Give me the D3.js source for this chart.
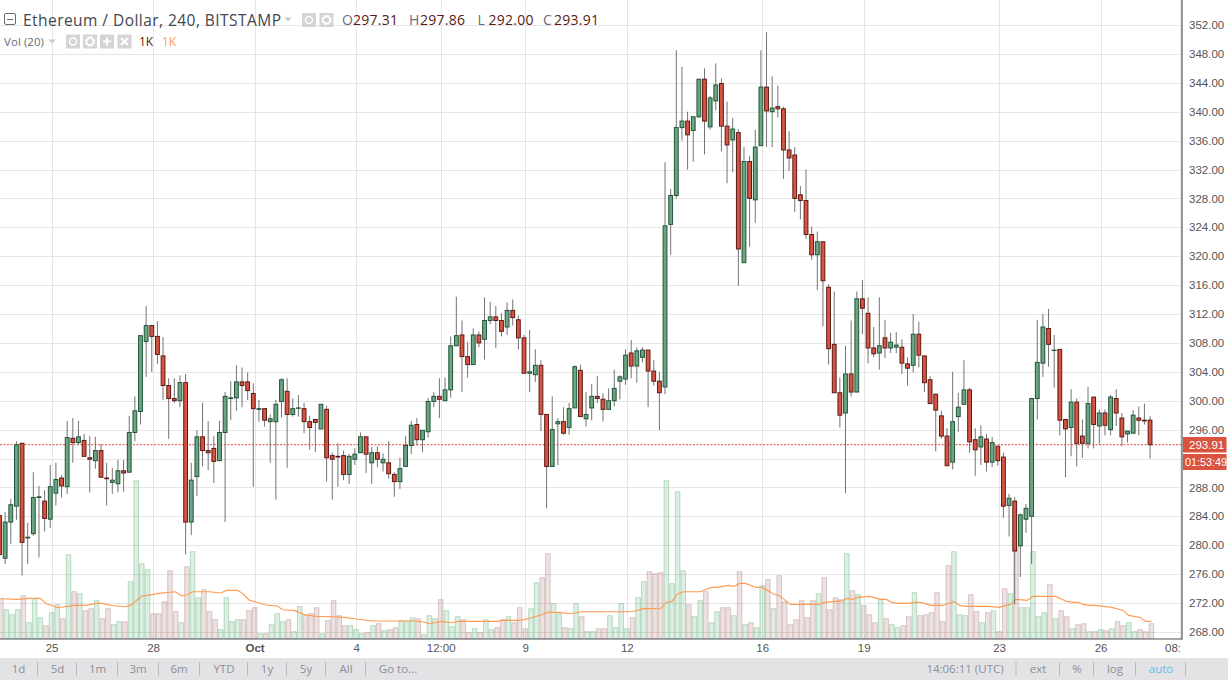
<!DOCTYPE html>
<html><head><meta charset="utf-8">
<script src="https://cdn.jsdelivr.net/npm/d3@7/dist/d3.min.js"></script>
<style>
html,body{margin:0;padding:0;background:#fff;overflow:hidden}
svg{display:block}
.ui{font-family:"Open Sans",sans-serif}
.axis text{font-family:"Liberation Sans",Arial,sans-serif;font-size:11.5px;fill:#555}
</style></head><body><svg id="c" width="1228" height="681"></svg>
<script>
const opens=[284.1,278.2,283.2,285.4,294.1,281.0,281.6,286.6,286.1,283.6,287.2,289.3,288.1,294.8,294.2,294.5,292.1,291.7,293.1,289.3,288.7,288.5,290.3,290.1,295.6,298.5,308.2,310.4,308.9,306.2,302.1,300.3,300.0,302.5,283.2,289.5,295.0,293.1,293.4,291.7,295.6,300.3,300.4,302.6,302.6,301.0,298.8,298.9,297.1,297.1,299.9,301.3,298.1,298.95,298.9,297.1,297.4,296.1,298.8,292.4,292.3,292.4,289.8,291.9,292.8,295.0,291.4,292.8,291.4,291.4,289.8,288.8,290.9,293.8,296.7,294.6,295.7,299.9,300.6,300.0,301.5,307.6,309.1,306.1,305.0,309.1,308.5,311.1,311.6,311.1,310.2,312.5,311.2,308.7,303.8,303.6,304.9,298.1,290.9,296.8,297.1,296.3,299.0,304.2,297.5,299.0,300.6,300.2,298.8,300.0,302.7,303.0,306.6,304.8,306.0,307.0,304.1,302.7,301.9,324.4,328.4,337.8,338.7,337.4,339.3,344.5,337.9,341.5,343.9,338.0,336.1,337.1,319.1,333.1,327.8,335.3,343.4,340.0,340.7,340.4,334.7,334.0,328.5,327.7,323.0,320.2,322.0,315.7,307.8,301.1,298.3,303.7,301.2,314.1,312.1,307.3,306.6,308.7,307.3,307.4,307.4,305.1,304.9,309.2,306.2,302.9,300.9,297.9,295.1,291.5,297.8,299.5,301.5,294.6,293.6,294.7,291.5,293.7,292.2,285.5,286.1,279.9,283.6,284.0,300.3,305.2,310.0,306.95,307.1,297.4,296.3,299.8,295.1,294.1,300.5,296.5,298.3,296.0,300.3,297.6,295.4,295.5,297.6,297.3,297.31];
const closes=[278.7,283.2,285.6,293.9,280.4,281.1,286.6,286.7,283.7,288.1,289.1,288.2,294.9,294.2,295.0,292.3,291.9,293.1,289.4,289.2,289.0,290.3,290.0,295.6,298.6,309.0,310.4,308.9,306.4,302.1,300.3,300.0,302.5,283.2,289.0,295.0,293.1,292.8,291.6,295.6,300.6,300.4,302.6,302.1,301.4,298.9,298.9,297.3,297.5,299.5,302.9,298.1,298.9,299.0,297.1,296.3,297.0,299.5,292.1,291.9,292.2,289.8,292.3,292.6,295.0,292.6,292.8,291.9,291.9,289.9,288.8,290.6,293.8,296.6,294.6,295.9,299.9,300.6,300.2,301.5,307.6,309.0,306.1,305.0,309.1,308.0,311.1,311.6,311.1,309.6,312.5,311.5,308.7,303.8,304.0,304.9,298.1,290.9,296.0,297.1,295.5,298.9,304.7,297.8,298.1,300.6,300.3,298.8,300.0,301.7,303.3,306.3,304.8,306.9,307.0,304.1,302.7,301.1,324.2,328.4,337.8,338.7,336.8,339.3,344.5,338.7,341.9,343.7,338.0,335.4,337.6,321.0,333.1,328.0,335.1,343.4,340.1,340.5,340.4,334.7,333.6,328.0,327.7,323.0,320.2,322.0,316.6,307.2,301.1,298.0,303.7,301.2,314.1,312.8,307.3,306.5,307.6,307.3,308.1,307.7,305.2,304.5,309.2,306.3,302.5,299.6,298.7,295.1,291.0,297.1,299.1,301.5,294.3,293.2,295.0,291.5,294.2,291.7,285.4,286.5,279.2,284.2,285.1,300.3,305.3,310.2,307.8,307.0,297.3,296.1,299.8,294.1,294.1,299.6,296.7,298.3,296.6,300.5,298.3,295.0,295.8,298.0,297.3,297.2,293.91];
const highs=[285,284.6,286.4,294.4,294.2,283.1,290.1,288.2,287.6,291.1,291.4,289.7,297.2,297.6,297.2,295.4,295.1,295.0,294.0,291.4,290.7,291.8,291.8,297.9,300.6,309.0,313.1,310.4,311.0,308.8,303.1,303.1,303.5,303.7,291.4,295.9,299.7,297.2,295.1,297.2,301.2,302.7,304.9,304.6,303.9,302.4,300.1,298.9,298.1,300.1,303.1,303.1,300.3,300.8,299.7,297.9,297.4,299.5,299.3,292.8,294.1,293.1,292.6,293.4,295.6,295.0,293.6,293.7,292.7,294.4,290.1,292.1,295.1,297.2,297.6,295.9,300.4,301.2,303.1,303.2,308.9,314.4,311.1,308.1,310.0,309.6,314.3,313.7,313.1,312.1,313.6,314.0,311.8,309.1,309.8,307.1,305.6,298.1,300.6,297.6,299.1,299.7,304.9,305.0,301.2,302.3,303.4,301.0,301.7,304.3,303.5,307.1,308.4,307.4,307.4,307.0,305.6,304.0,333.0,329.3,348.5,346.2,340.0,339.3,344.5,346.0,342.2,346.7,344.6,341.4,339.1,337.6,335.1,333.9,337.5,348.5,351.0,344.9,343.6,340.7,337.3,335.1,329.7,332.0,324.1,323.4,322.0,316.1,315.1,303.2,307.6,311.1,315.1,316.7,314.3,310.2,314.3,311.2,309.4,309.5,308.5,306.0,312.0,310.9,306.2,303.4,300.9,298.6,296.2,304.0,301.1,305.6,301.8,296.2,296.6,295.4,295.0,293.7,292.8,287.1,286.7,284.4,285.7,300.3,311.2,312.0,312.7,309.1,307.1,297.4,301.6,300.3,297.4,301.9,300.5,298.8,298.8,300.8,301.6,298.3,295.8,298.7,299.2,299.6,297.86];
const lows=[277.8,277.4,280.2,283.5,275.8,277.4,281.3,278.3,281.9,282.4,285.5,286.6,287.1,291.4,293.9,292.3,287.3,290.6,289.4,285.5,287.1,287.3,287.4,290.1,294.4,296.7,303.3,304.0,305.1,300.1,294.7,299.7,299.1,278.7,281.4,286.8,290.9,290.4,288.6,291.7,283.2,297.3,298.6,299.1,300.1,288.1,297.1,296.4,291.4,286.3,297.7,290.7,297.8,297.8,295.5,293.2,292.9,296.1,288.8,286.3,288.1,289.0,288.5,291.1,292.8,290.0,288.5,290.8,290.2,289.2,286.7,287.8,290.9,292.6,293.8,292.9,294.9,299.1,297.6,300.0,300.4,307.6,301.2,303.2,305.0,307.4,305.7,310.6,307.3,308.9,309.1,310.4,307.1,303.8,301.2,302.6,295.8,285.1,290.9,291.1,295.3,295.3,299.0,297.8,296.4,297.3,299.7,297.1,298.8,299.2,300.2,302.2,303.1,302.5,305.3,299.1,302.1,295.9,300.9,320.2,328.0,336.0,332.0,333.1,339.1,334.1,337.5,340.2,334.5,330.1,331.6,315.9,319.1,321.3,324.6,335.3,335.1,335.1,339.2,330.7,331.8,326.1,325.1,322.4,319.5,315.3,310.3,305.0,301.1,296.3,287.2,300.6,301.2,309.2,305.2,306.0,304.3,305.9,306.6,306.6,303.7,302.1,303.9,304.6,301.2,299.6,293.0,294.7,291.0,290.5,295.7,299.5,292.8,289.6,291.1,290.2,290.8,291.0,283.8,281.2,271.8,275.6,281.7,277.4,297.4,303.3,304.7,301.8,295.2,289.4,292.3,290.9,292.1,293.4,293.4,294.0,295.2,295.2,296.5,293.7,294.2,295.5,295.2,296.7,292.00];
const volumes=[39,28,23,28,42,15,39,20,12,25,33,19,83,46,44,27,29,37,19,29,13,16,16,56,157,74,68,24,24,36,67,26,15,71,86,40,48,26,18,8,40,16,18,18,27,30,4,4,13,24,16,18,6,31,23,24,30,4,17,37,22,12,12,8,4,5,12,14,7,8,10,17,16,20,19,3,22,19,38,27,11,21,18,5,9,5,18,8,10,18,21,15,30,9,29,55,60,84,34,24,10,9,34,21,6,6,9,9,22,10,34,9,20,40,56,66,64,65,157,54,146,67,33,21,37,46,15,26,30,30,22,66,13,15,10,52,58,29,62,36,13,18,37,20,37,44,60,28,40,38,84,47,43,32,23,15,38,19,13,10,12,21,45,22,23,25,45,16,72,86,23,22,43,26,15,25,27,6,49,44,90,30,30,86,21,25,53,19,27,21,9,13,14,6,6,8,7,9,16,12,15,6,8,6,14];
const maBars=[0,3,5,7,8,10,11,13,15,17,18,20,22,23,25,26,28,31,32,33,34,37,39,40,42,43,44,47,49,50,52,54,56,59,61,63,66,68,71,73,75,76,78,80,81,88,89,92,94,96,97,99,101,103,112,114,117,118,119,120,121,124,126,127,129,130,131,132,134,135,137,138,140,141,145,146,148,149,150,151,152,154,156,157,158,159,161,162,163,165,167,168,169,170,171,175,177,179,180,182,183,187,189,190,191,192,193,194,197,199,200,202,203,204];
const maVals=[39,38.3,39.3,39.3,34.3,30.3,30.7,32.3,32.3,34.3,34.3,32,31,32.3,41.7,42.3,44.3,46,42,42.7,46,46,44.7,47.3,47.3,43.7,37.7,32.7,31.7,28,27.3,22.7,21.3,21,20.3,18.7,16.7,16.7,16.7,17,15.7,14,16.3,15,16.3,16.3,17.3,17.3,19.7,23.3,25.3,25.3,24,26,26,29.3,29,35.3,36.3,43.7,46,46,50.3,50.3,52.3,51.3,54.3,54.3,50.3,50.3,43.7,42.3,33.3,33.3,33.3,35.3,36.3,36.3,39.3,38.3,40.3,41.3,38.3,38.3,35.3,34.3,34.3,35.3,35.3,32.3,32.3,34.3,36.3,32.3,31.3,31.3,30.3,33.3,38.3,37.3,41.3,41.3,36.3,35.3,35.3,33.3,32.3,32.3,30.3,27.3,22.3,20.3,16.3,16.3];
const priceTicks=[268,272,276,280,284,288,292,296,300,304,308,312,316,320,324,328,332,336,340,344,348,352];
const timeBars=[9,27,45,63,78,93,111,135,153,177,195,209];
const timeLabels=["25","28","Oct","4","12:00","9","12","16","19","23","26","08:"];
const rangeLabels=["1d","5d","1m","3m","6m","YTD","1y","5y","All","Go to..."];
const rightLabels=["14:06:11 (UTC)","ext","%","log","auto"];

const W=1228,H=681,plotR=1182,plotB=639;
const svg=d3.select("#c");
const x=d3.scaleLinear().domain([0,204]).range([0.8,1151.36]);
const y=d3.scaleLinear().domain([268,352]).range([631.9,25]);
const v=d3.scaleLinear().domain([0,157]).range([637.7,480.7]);
const candleShift=-1.3;
const defs=svg.append("defs");
defs.append("clipPath").attr("id","plot").append("rect").attr("width",plotR).attr("height",plotB);

const plot=svg.append("g").attr("clip-path","url(#plot)");
// grid
plot.append("g").selectAll("line").data(priceTicks).join("line")
 .attr("x1",0).attr("x2",plotR).attr("y1",d=>Math.round(y(d))+.5).attr("y2",d=>Math.round(y(d))+.5)
 .attr("stroke","#e6e6e6").attr("stroke-width",1);
plot.append("g").selectAll("line").data(timeBars).join("line")
 .attr("y1",0).attr("y2",plotB).attr("x1",d=>Math.round(x(d))+.5).attr("x2",d=>Math.round(x(d))+.5)
 .attr("stroke","#e6e6e6").attr("stroke-width",1);

// volume
const idx=d3.range(opens.length);
const up=i=>closes[i]>=opens[i];
plot.append("g").selectAll("rect").data(idx).join("rect")
 .attr("x",i=>x(i)-2.3).attr("width",4.6)
 .attr("y",i=>v(volumes[i])).attr("height",i=>v(0)-v(volumes[i])+1)
 .attr("fill",i=>up(i)?"rgba(85,170,110,0.2)":"rgba(150,85,85,0.17)")
 .attr("stroke",i=>up(i)?"rgba(85,170,110,0.36)":"rgba(150,85,85,0.28)").attr("stroke-width",1);
// volume MA
plot.append("path").datum(maBars.map((b,k)=>[b,maVals[k]]))
 .attr("fill","none").attr("stroke","#ff9a52").attr("stroke-width",1.1)
 .attr("d",d3.line().x(d=>x(d[0])).y(d=>v(d[1])));

// last price line (behind candles)
plot.append("line").attr("x1",0).attr("x2",plotR).attr("y1",y(closes[204])).attr("y2",y(closes[204]))
 .attr("stroke","#e8412f").attr("stroke-width",1).attr("stroke-dasharray","2,1.5");

// candles
const cg=plot.append("g");
cg.selectAll("line").data(idx).join("line")
 .attr("x1",i=>x(i)+candleShift).attr("x2",i=>x(i)+candleShift)
 .attr("y1",i=>y(highs[i])).attr("y2",i=>y(lows[i]))
 .attr("stroke","#737375").attr("stroke-width",1);
cg.selectAll("rect").data(idx).join("rect")
 .attr("x",i=>x(i)+candleShift-1.9).attr("width",3.8)
 .attr("y",i=>y(Math.max(opens[i],closes[i])))
 .attr("height",i=>Math.abs(y(opens[i])-y(closes[i])))
 .attr("fill",i=>up(i)?"#6ba583":"#d75442")
 .attr("stroke",i=>up(i)?"#225437":"#5b1a13").attr("stroke-width",1);

// axes
const yAxis=d3.axisRight(y).tickValues(priceTicks).tickFormat(d3.format(".2f")).tickSize(0).tickPadding(7);
svg.append("g").attr("class","axis").attr("transform",`translate(${plotR},0)`).call(yAxis)
 .call(g=>g.select(".domain").attr("d",`M0,0V${plotB+.5}`).attr("stroke","#50535e").attr("stroke-width",1.2));
const xAxis=d3.axisBottom(x).tickValues(timeBars).tickFormat((d,k)=>timeLabels[k]).tickSize(0).tickPadding(5);
svg.append("g").attr("class","axis").attr("transform",`translate(0,${plotB})`).call(xAxis)
 .call(g=>g.select(".domain").attr("d",`M0,0H${plotR}`).attr("stroke","#50535e").attr("stroke-width",1.2))
 .call(g=>g.selectAll("text").attr("font-weight",(d,k)=>timeLabels[k]==="Oct"?"bold":null)
   .attr("text-anchor",(d,k)=>timeLabels[k]==="08:"?"end":"middle")
   .attr("dx",(d,k)=>timeLabels[k]==="08:"?"1":"0"));

// last price badges
svg.append("rect").attr("x",1183).attr("y",437).attr("width",43.5).attr("height",15.5).attr("fill","#d9533f");
svg.append("rect").attr("x",1183).attr("y",454).attr("width",43.5).attr("height",16).attr("fill","#d9533f");
svg.append("text").attr("x",1189).attr("y",448.5).attr("fill","#fff").attr("font-family","Liberation Sans").attr("font-size",11.5).text(d3.format(".2f")(closes[204]));
svg.append("text").attr("x",1185).attr("y",466).attr("fill","#fff").attr("font-family","Liberation Sans").attr("font-size",10.8).text("01:53:49");

// header
const hdr=svg.append("g").attr("class","ui");
hdr.append("rect").attr("x",4.5).attr("y",13.5).attr("width",11).attr("height",11).attr("rx",1.5).attr("fill","#fff").attr("stroke","#6a6d78");
hdr.append("line").attr("x1",7).attr("x2",13).attr("y1",19.5).attr("y2",19.5).attr("stroke","#6a6d78");
hdr.append("text").attr("x",23).attr("y",25.5).attr("font-size",15.5).attr("fill","#43464f").attr("textLength",258).text("Ethereum / Dollar, 240, BITSTAMP");
hdr.append("path").attr("d","M284,17.5h8l-4,4z").attr("fill","#ccc");
const ohlc=[["O",342,opens[204]],["H",409,highs[204]],["L",477.5,lows[204]],["C",543,closes[204]]];
ohlc.forEach(([l,px,val])=>{
 hdr.append("text").attr("x",px).attr("y",25).attr("font-size",14).attr("fill","#6a6d78").text(l);
 hdr.append("text").attr("x",px+11).attr("y",25).attr("font-size",14).attr("fill","#5b1a13").attr("textLength",45).text(val.toFixed(2));
});
hdr.append("text").attr("x",4).attr("y",46).attr("font-size",11.5).attr("fill","#6a6d78").attr("textLength",40).text("Vol (20)");
hdr.append("path").attr("d","M48,39.5h8l-4,4z").attr("fill","#ccc");
hdr.append("text").attr("x",139).attr("y",46).attr("font-size",12).attr("fill","#5b1a13").text("1K");
hdr.append("text").attr("x",162).attr("y",46).attr("font-size",12).attr("fill","#ff9a52").text("1K");
function eye(cx,cy){const g=hdr.append("g");g.append("rect").attr("x",cx-7).attr("y",cy-7).attr("width",14).attr("height",14).attr("fill","#d4d4d6");
 g.append("circle").attr("cx",cx).attr("cy",cy).attr("r",3.5).attr("fill","none").attr("stroke","#fff").attr("stroke-width",1.5);}
function gear(cx,cy,bg,col){const g=hdr.append("g");if(bg)g.append("rect").attr("x",cx-7).attr("y",cy-7).attr("width",14).attr("height",14).attr("fill",bg);
 g.append("circle").attr("cx",cx).attr("cy",cy).attr("r",4).attr("fill","none").attr("stroke",col).attr("stroke-width",2.4).attr("stroke-dasharray","2,1.15");
 g.append("circle").attr("cx",cx).attr("cy",cy).attr("r",3.4).attr("fill","none").attr("stroke",col).attr("stroke-width",1.5);}
eye(309,20);gear(326.5,20,"#d4d4d6","#fff");
eye(73,41.5);gear(90,41.5,"#d4d4d6","#fff");
hdr.append("rect").attr("x",100).attr("y",34.5).attr("width",14).attr("height",14).attr("fill","#d4d4d6");
hdr.append("path").attr("d","M103,41.5h8M107,37.5v8").attr("stroke","#fff").attr("stroke-width",2);
hdr.append("rect").attr("x",117.5).attr("y",34.5).attr("width",14).attr("height",14).attr("fill","#d4d4d6");
hdr.append("path").attr("d","M121,38l7,7M128,38l-7,7").attr("stroke","#fff").attr("stroke-width",2);

// toolbar
const tb=svg.append("g").attr("class","ui");
tb.append("rect").attr("x",0).attr("y",658).attr("width",W).attr("height",22).attr("fill","#e3e3e6");
const rx=[18.5,57.5,97.5,138,179,224,267,306,346,398];
tb.selectAll("text.r").data(rangeLabels).join("text").attr("class","r").attr("x",(d,k)=>rx[k]).attr("y",673)
 .attr("text-anchor","middle").attr("font-size",11.5).attr("fill","#8b8e97").text(d=>d);
const seps=[37.5,76.5,117.5,158.5,199.5,247.5,286.5,325.5,365.5,1016,1059.5,1093.5,1135.5,1185.5];
tb.selectAll("line").data(seps).join("line").attr("x1",d=>d).attr("x2",d=>d).attr("y1",662).attr("y2",676).attr("stroke","#b9bac0");
const lx=[965,1038,1077,1115,1161];
tb.selectAll("text.l").data(rightLabels).join("text").attr("class","l").attr("x",(d,k)=>lx[k]).attr("y",673)
 .attr("text-anchor","middle").attr("font-size",11.5).attr("fill",d=>d==="auto"?"#5fbde9":"#8b8e97").text(d=>d);
gear(1206,669,null,"#8b8e97");
</script></body></html>
